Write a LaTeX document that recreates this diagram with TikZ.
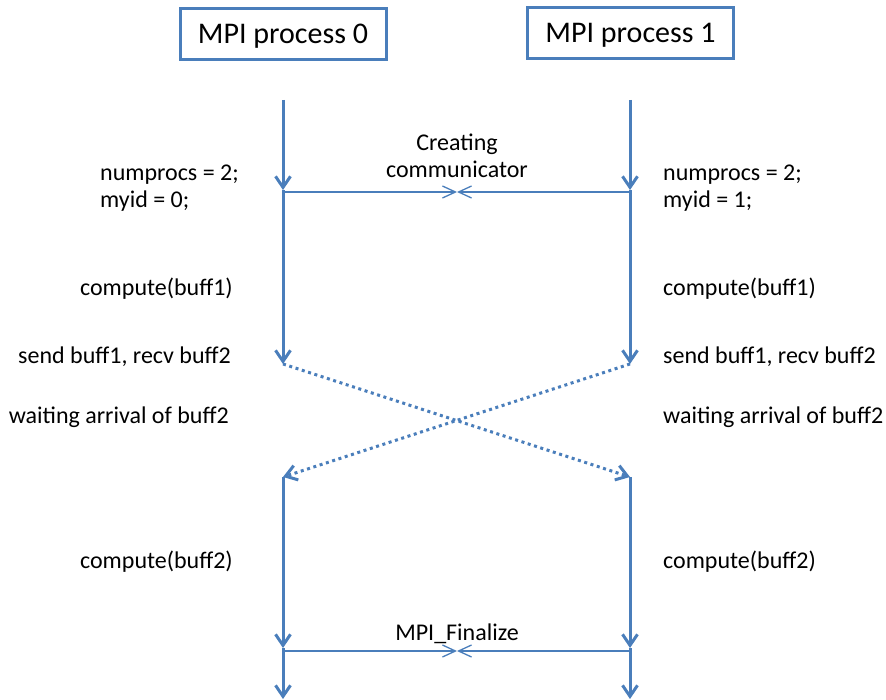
\documentclass[tikz,border=0pt]{standalone}
\usepackage{fontspec}
\setmainfont{Carlito}
\usetikzlibrary{arrows.meta}
\definecolor{lineblue}{HTML}{4A7EBB}
\begin{document}
\begin{tikzpicture}[x=1pt,y=-1pt,
  procbox/.style={draw=lineblue, line width=3pt, minimum width=206pt,
    minimum height=51pt, inner sep=0pt, text height=19pt, text depth=0pt,
    font=\fontsize{30}{36}\selectfont},
  lbl/.style={inner sep=0pt, font=\fontsize{24}{27}\selectfont},
  life/.style={draw=lineblue, line width=3pt,
    -{Straight Barb[length=11pt,width=15pt,line width=3pt]}},
  msg/.style={draw=lineblue, line width=3pt, dash pattern=on 3pt off 3.6pt,
    -{Straight Barb[length=11pt,width=15pt,line width=3pt]}},
  sync/.style={draw=lineblue, line width=1.3pt,
    -{Straight Barb[length=13pt,width=12pt,line width=1.3pt]}}
]
\useasboundingbox (0,0) rectangle (886,700);

% process headers
\node[procbox] (p0) at (283,34.5) {MPI process 0};
\node[procbox] (p1) at (630.5,33.5) {MPI process 1};

% points along the two timelines
\coordinate (a0) at (283,100);  \coordinate (b0) at (630,100);
\coordinate (a1) at (283,190);  \coordinate (b1) at (630,190);
\coordinate (a2) at (283,364);  \coordinate (b2) at (630,364);
\coordinate (a3) at (283,477);  \coordinate (b3) at (630,477);
\coordinate (a4) at (283,648);  \coordinate (b4) at (630,648);
\coordinate (a5) at (283,699);  \coordinate (b5) at (630,699);

% synchronisation points
\coordinate (h1a) at (283,192); \coordinate (h1b) at (630,192); \coordinate (h1m) at (457,192);
\coordinate (h2a) at (283,651); \coordinate (h2b) at (630,651); \coordinate (h2m) at (457,651);

% timelines
\draw[life] (a0) -- (a1);
\draw[life] (a1) -- (a2);
\draw[life] (a3) -- (a4);
\draw[life] (a4) -- (a5);
\draw[life] (b0) -- (b1);
\draw[life] (b1) -- (b2);
\draw[life] (b3) -- (b4);
\draw[life] (b4) -- (b5);

% communicator creation and finalize
\draw[sync] (h1a) -- (h1m);
\draw[sync] (h1b) -- (h1m);
\draw[sync] (h2a) -- (h2m);
\draw[sync] (h2b) -- (h2m);

% buffer exchange
\draw[msg] (a2) -- (b3);
\draw[msg] (b2) -- (a3);

% central labels
\node[lbl, anchor=mid] (cr1) at (457,148) {Creating};
\node[lbl, anchor=mid] (cr2) at (457,175) {communicator};
\node[lbl, anchor=mid] (fin) at (457,638) {MPI\_Finalize};

% process 0 annotations
\node[lbl, anchor=mid west] (l1) at (100,178) {numprocs = 2;};
\node[lbl, anchor=mid west] (l2) at (100,205) {myid = 0;};
\node[lbl, anchor=mid east] (l3) at (233,293) {compute(buff1)};
\node[lbl, anchor=mid east] (l4) at (231,361) {send buff1, recv buff2};
\node[lbl, anchor=mid east] (l5) at (229,421) {waiting arrival of buff2};
\node[lbl, anchor=mid east] (l6) at (233,566) {compute(buff2)};

% process 1 annotations
\node[lbl, anchor=mid west] (r1) at (663,178) {numprocs = 2;};
\node[lbl, anchor=mid west] (r2) at (663,205) {myid = 1;};
\node[lbl, anchor=mid west] (r3) at (663,293) {compute(buff1)};
\node[lbl, anchor=mid west] (r4) at (663,361) {send buff1, recv buff2};
\node[lbl, anchor=mid west] (r5) at (663,421) {waiting arrival of buff2};
\node[lbl, anchor=mid west] (r6) at (663,566) {compute(buff2)};
\end{tikzpicture}
\end{document}
